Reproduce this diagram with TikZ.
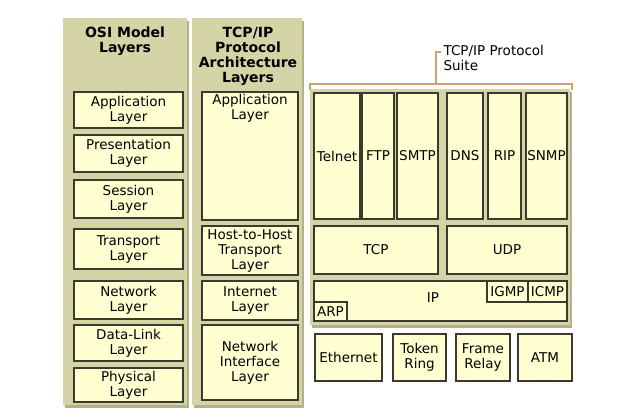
\documentclass[tikz,border=0pt]{standalone}
\usepackage{fontspec}
\setmainfont{DejaVu Sans}
\usetikzlibrary{shadows}
\definecolor{panelfill}{HTML}{D4D4A6}
\definecolor{panelshadow}{HTML}{B2B288}
\definecolor{boxfill}{HTML}{FFFFD2}
\definecolor{boxline}{HTML}{3A3A2E}
\definecolor{bracecol}{HTML}{D2A070}
\tikzset{
    panel/.style = {rectangle, fill=panelfill, inner sep=0pt, drop shadow={shadow xshift=2pt, shadow yshift=-2.5pt, fill=panelshadow, opacity=1}},
    layer/.style = {rectangle, draw=boxline, fill=boxfill, line width=1.2pt, inner sep=0pt, align=center, font=\fontsize{13.5}{15}\selectfont},
    title/.style = {inner sep=0pt, align=center, font=\bfseries\fontsize{14}{15}\selectfont},
    suitebrace/.style = {draw=bracecol, line width=1.6pt}
}

\begin{document}
\begin{tikzpicture}[x=1pt, y=-1pt]
\useasboundingbox (0,0) rectangle (625,418);

% background panels
\node (osipanel) [panel, minimum width=124pt, minimum height=387pt] at (125,211.5) {};
\node (archpanel) [panel, minimum width=110pt, minimum height=387pt] at (247,211.5) {};
\node (suitepanel) [panel, minimum width=260pt, minimum height=236pt] at (440,207) {};

\node (osititle) [title, anchor=north] at (125,27) {OSI Model\\Layers};
\node (archtitle) [title, anchor=north] at (248,27) {TCP/IP\\Protocol\\Architecture\\Layers};

% OSI model
\node (osiapp) [layer, minimum width=109pt, minimum height=36pt] at (128.5,110) {Application\\Layer};
\node (osipres) [layer, minimum width=109pt, minimum height=37pt] at (128.5,153.5) {Presentation\\Layer};
\node (osisess) [layer, minimum width=109pt, minimum height=38pt] at (128.5,199) {Session\\Layer};
\node (ositrans) [layer, minimum width=109pt, minimum height=40pt] at (128.5,249) {Transport\\Layer};
\node (osinet) [layer, minimum width=109pt, minimum height=38pt] at (128.5,300) {Network\\Layer};
\node (osidl) [layer, minimum width=109pt, minimum height=36pt] at (128.5,343) {Data-Link\\Layer};
\node (osiphys) [layer, minimum width=109pt, minimum height=34pt] at (128.5,385) {Physical\\Layer};

% TCP/IP architecture
\node (archapp) [layer, minimum width=96pt, minimum height=128pt, label={[layer, draw=none, fill=none, anchor=north, yshift=-2pt]north:Application\\Layer}] at (250,156) {};
\node (archhost) [layer, minimum width=96pt, minimum height=49pt] at (250,250.5) {Host-to-Host\\Transport\\Layer};
\node (archinet) [layer, minimum width=96pt, minimum height=39pt] at (250,300.5) {Internet\\Layer};
\node (archnetif) [layer, minimum width=96pt, minimum height=75pt] at (250,362.5) {Network\\Interface\\Layer};

% protocol suite
\node (telnet) [layer, minimum width=46pt, minimum height=126pt] at (337,156) {Telnet};
\node (ftp) [layer, minimum width=32pt, minimum height=126pt] at (378,156) {FTP};
\node (smtp) [layer, minimum width=41pt, minimum height=126pt] at (417.5,156) {SMTP};
\node (dns) [layer, minimum width=36pt, minimum height=126pt] at (465,156) {DNS};
\node (rip) [layer, minimum width=33pt, minimum height=126pt] at (504.5,156) {RIP};
\node (snmp) [layer, minimum width=41pt, minimum height=126pt] at (546.5,156) {SNMP};

\node (tcp) [layer, minimum width=124pt, minimum height=48pt] at (376,250) {TCP};
\node (udp) [layer, minimum width=120pt, minimum height=48pt] at (507,250) {UDP};

\node (ip) [layer, minimum width=253pt, minimum height=40pt] at (440.5,301) {};
\node (iplabel) [layer, draw=none, fill=none] at (433,298) {IP};
\node (igmp) [layer, minimum width=41pt, minimum height=21pt] at (507.5,291.5) {IGMP};
\node (icmp) [layer, minimum width=39pt, minimum height=21pt] at (547.5,291.5) {ICMP};
\node (arp) [layer, minimum width=33pt, minimum height=19pt] at (330.5,311.5) {ARP};

\node (ethernet) [layer, minimum width=67pt, minimum height=47pt] at (348.5,357.5) {Ethernet};
\node (token) [layer, minimum width=53pt, minimum height=47pt] at (419.5,357.5) {Token\\Ring};
\node (frame) [layer, minimum width=54pt, minimum height=47pt] at (483,357.5) {Frame\\Relay};
\node (atm) [layer, minimum width=54pt, minimum height=47pt] at (545,357.5) {ATM};

% suite bracket
\coordinate (bl) at (310,90);
\coordinate (br) at (572,90);
\coordinate (bm) at (436,84);
\coordinate (bt) at (441,52);
\draw [suitebrace] (bl) -- (bl |- bm) -- (br |- bm) -- (br);
\draw [suitebrace] (bm) -- (bm |- bt) -- (bt);
\node (suitelabel) [layer, draw=none, fill=none, align=left, anchor=north west] at (443,45) {TCP/IP Protocol\\Suite};
\end{tikzpicture}
\end{document}
